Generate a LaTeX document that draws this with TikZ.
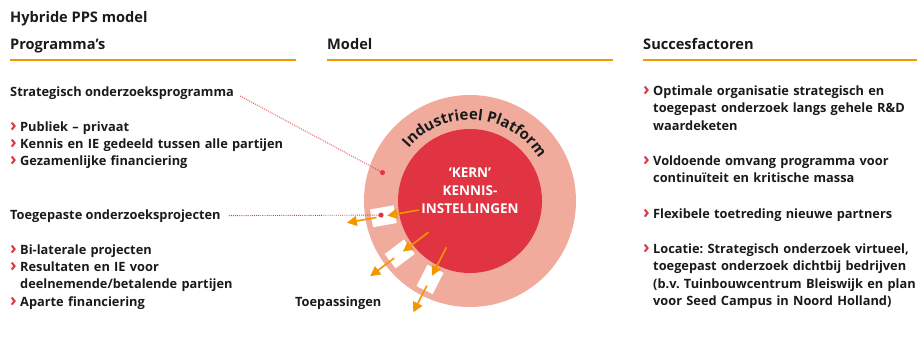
\documentclass[tikz,border=0pt]{standalone}
\usepackage{fontspec}
\setmainfont{Open Sans}
\usetikzlibrary{arrows.meta,decorations.text,calc}
\definecolor{oranje}{RGB}{243,150,0}
\definecolor{kernrood}{RGB}{224,52,66}
\definecolor{ringroze}{RGB}{241,171,156}
\definecolor{tekst}{RGB}{26,26,26}
\newcommand\chev{\makebox[10pt][l]{\color{kernrood}\fontsize{18}{17.5}\selectfont\raisebox{-0.5pt}{›}}}
\newcommand\verder{\newline\hspace*{10pt}}

\begin{document}
\begin{tikzpicture}[x=1pt,y=1pt,
  kop/.style={anchor=base west, inner sep=0, text=tekst, font=\bfseries\fontsize{14.6}{17}\selectfont},
  sub/.style={anchor=base west, inner sep=0, text=tekst, font=\bfseries\fontsize{12.8}{17.5}\selectfont\frenchspacing},
  item/.style={sub, text width=320pt, align=left},
  stip/.style={kernrood, line width=0.9pt, dash pattern=on 0.9pt off 1.2pt},
  pijl/.style={oranje, line width=1.6pt, -{Triangle[length=10pt,width=10pt]}},
  vak/.style={fill=white, minimum width=24pt, minimum height=18pt, inner sep=0}]
\useasboundingbox (0,0) rectangle (917,338);

% koppen
\node[kop] (titel) at (10,315) {Hybride PPS model};
\node[kop] (prog) at (10,288) {Programma’s};
\node[kop] (model) at (327,288) {Model};
\node[kop] (succes) at (643,288) {Succesfactoren};
\foreach \xa/\xb in {10/296,327/613,643/917}
  \draw[oranje, line width=2pt] (\xa,278) -- (\xb,278);

% programma's
\node[sub] (strat) at (10,242) {Strategisch onderzoeksprogramma};
\node[sub] (toegep) at (10,119) {Toegepaste onderzoeksprojecten};
\foreach \y/\t in {207/{Publiek – privaat},190/{Kennis en IE gedeeld tussen alle partijen},
    173/{Gezamenlijke financiering},84/{Bi-laterale projecten},
    67/{Resultaten en IE voor\verder deelnemende/betalende partijen},32/{Aparte financiering}}
  \node[item] at (10,\y) {\chev\t};

% model
\coordinate (kern) at (470,137);
\fill[ringroze] (kern) circle[radius=106];
\fill[kernrood] (kern) circle[radius=72];
\path[decorate, decoration={text along path, text align=center, text color=tekst,
    text={|\bfseries\fontsize{15}{15}\selectfont|Industrieel Platform}}]
  ($(kern)+(142:81)$) arc[start angle=142, end angle=29, radius=81];
\node[align=center, text=white, font=\bfseries\fontsize{13.5}{18}\selectfont] (kerntekst)
  at ($(kern)+(0,10.5)$) {‘KERN’\\KENNIS-\\INSTELLINGEN};
\foreach \a [count=\i] in {190,217,243} {
  \node[vak, rotate=\a] (vak\i) at ($(kern)+(\a:88)$) {};
  \coordinate (van\i) at ($(kern)+(\a:52)$);
  \coordinate (uit\i) at ($(kern)+(\a:125)$);
  \draw[pijl, shorten >=4pt] (van\i) -- (vak\i.center);
  \draw[pijl, shorten <=7pt] (vak\i.center) -- (uit\i);
}
\coordinate (stip1) at ($(kern)+(162:92)$);
\coordinate (stip2) at ($(kern)+(189:90)$);
\fill[kernrood] (stip1) circle[radius=2.5];
\fill[kernrood] (stip2) circle[radius=2.5];
\draw[stip, shorten <=7pt] (strat.east) -- (stip1);
\draw[stip, shorten <=8pt] (toegep.east) -- (stip2);
\node[sub] (toep) at (295,32) {Toepassingen};

% succesfactoren
\foreach \y/\t in {243/{Optimale organisatie strategisch en\verder toegepast onderzoek langs gehele R\&D\verder waardeketen},
    173/{Voldoende omvang programma voor\verder continuïteit en kritische massa},
    120/{Flexibele toetreding nieuwe partners},
    85/{Locatie: Strategisch onderzoek virtueel,\verder toegepast onderzoek dichtbij bedrijven\verder (b.v. Tuinbouwcentrum Bleiswijk en plan\verder voor Seed Campus in Noord Holland)}}
  \node[item] at (643,\y) {\chev\t};
\end{tikzpicture}
\end{document}
